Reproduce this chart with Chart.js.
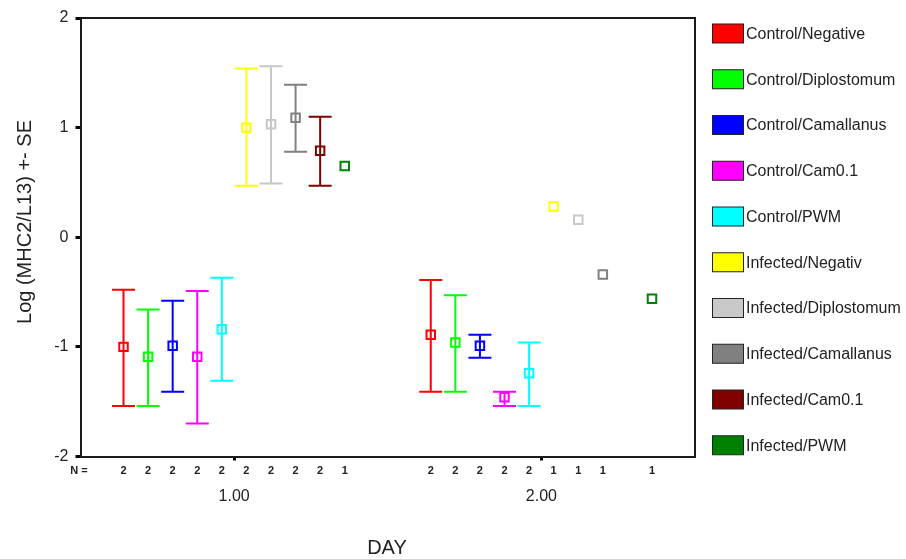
<!DOCTYPE html>
<html lang="en">
<head>
  <meta charset="UTF-8" />
  <title>MHC2/L13 by day</title>
  <script src="https://cdn.jsdelivr.net/npm/chart.js"></script>
  <style>
    html, body { margin: 0; padding: 0; background: #fff; }
    #wrap { width: 906px; height: 559px; }
  </style>
</head>
<body>
  <div id="wrap"><canvas id="chart" width="906" height="559"></canvas></div>

<script>
  // --- data ---
  const groups = [
    "Control/Negative", "Control/Diplostomum", "Control/Camallanus", "Control/Cam0.1", "Control/PWM",
    "Infected/Negativ", "Infected/Diplostomum", "Infected/Camallanus", "Infected/Cam0.1", "Infected/PWM"
  ];
  const colors = [
    "#ff0000", "#00ff00", "#0000ff", "#ff00ff", "#00ffff",
    "#ffff00", "#c8c8c8", "#808080", "#800000", "#008000"
  ];
  const days = [1, 2];
  const dayLabels = ["1.00", "2.00"];

  // mean, mean-SE, mean+SE per group (null = not plotted)
  const day1Mean = [-1.00, -1.09, -0.99, -1.09, -0.84, 1.00, 1.03, 1.09, 0.79, 0.65];
  const day1Low  = [-1.54, -1.54, -1.41, -1.70, -1.31, 0.47, 0.49, 0.78, 0.47, null];
  const day1High = [-0.48, -0.66, -0.58, -0.49, -0.37, 1.54, 1.56, 1.39, 1.10, null];
  const day2Mean = [-0.89, -0.96, -0.99, -1.46, -1.24, 0.28, 0.16, -0.34, null, -0.56];
  const day2Low  = [-1.41, -1.41, -1.10, -1.54, -1.54, null, null, null, null, null];
  const day2High = [-0.39, -0.53, -0.89, -1.41, -0.96, null, null, null, null, null];
  const day1N = [2, 2, 2, 2, 2, 2, 2, 2, 2, 1];
  const day2N = [2, 2, 2, 2, 2, 1, 1, 1, null, 1];

  const means = [day1Mean, day2Mean];
  const lows = [day1Low, day2Low];
  const highs = [day1High, day2High];
  const counts = [day1N, day2N];

  // groups sit side by side around each day
  const slot = 0.08;
  const xFor = (d, i) => days[d] + (i - (groups.length - 1) / 2) * slot;

  const TEXT = "#222";
  const FONT = "'Liberation Sans', Arial, sans-serif";

  const datasets = groups.map((name, i) => ({
    label: name,
    data: days.map((_, d) => ({ x: xFor(d, i), y: means[d][i] }))
      .filter(p => p.y !== null),
    borderColor: colors[i],
    backgroundColor: "transparent",
    pointStyle: "rect",
    pointRadius: 6,
    pointBorderWidth: 2,
    showLine: false
  }));

  // SE bars drawn under the squares
  const errorBars = {
    id: "errorBars",
    beforeDatasetsDraw(chart) {
      const { ctx, scales: { x, y } } = chart;
      ctx.save();
      ctx.lineWidth = 2;
      groups.forEach((_, i) => {
        days.forEach((_, d) => {
          const lo = lows[d][i], hi = highs[d][i];
          if (lo === null || hi === null) return;
          const px = x.getPixelForValue(xFor(d, i));
          const y0 = y.getPixelForValue(lo), y1 = y.getPixelForValue(hi);
          ctx.strokeStyle = colors[i];
          ctx.beginPath();
          ctx.moveTo(px, y0); ctx.lineTo(px, y1);
          ctx.moveTo(px - 11.5, y0); ctx.lineTo(px + 11.5, y0);
          ctx.moveTo(px - 11.5, y1); ctx.lineTo(px + 11.5, y1);
          ctx.stroke();
        });
      });
      ctx.restore();
    }
  };

  // frame, N row, axis titles and legend
  const extras = {
    id: "extras",
    afterDraw(chart) {
      const { ctx, chartArea: a, scales: { x } } = chart;
      ctx.save();
      ctx.strokeStyle = "#1a1a1a";
      ctx.lineWidth = 2;
      ctx.beginPath();
      ctx.moveTo(a.left, a.top); ctx.lineTo(a.right, a.top); ctx.lineTo(a.right, a.bottom);
      ctx.stroke();

      ctx.fillStyle = TEXT;
      ctx.textBaseline = "middle";
      ctx.textAlign = "center";
      ctx.font = "bold 11px " + FONT;
      ctx.fillText("N =", 79, 471);
      groups.forEach((_, i) => {
        days.forEach((_, d) => {
          const n = counts[d][i];
          if (n === null) return;
          ctx.fillText(String(n), x.getPixelForValue(xFor(d, i)), 471);
        });
      });

      ctx.font = "20px " + FONT;
      ctx.fillText("DAY", 387, 548);
      ctx.save();
      ctx.translate(25, 222);
      ctx.rotate(-Math.PI / 2);
      ctx.fillText("Log (MHC2/L13) +- SE", 0, 0);
      ctx.restore();

      ctx.font = "16px " + FONT;
      ctx.textAlign = "left";
      ctx.lineWidth = 1;
      ctx.strokeStyle = "#222";
      groups.forEach((name, i) => {
        const cy = 33.5 + i * 45.75;
        ctx.fillStyle = colors[i];
        ctx.fillRect(712.5, cy - 9.5, 31, 19);
        ctx.strokeRect(712.5, cy - 9.5, 31, 19);
        ctx.fillStyle = TEXT;
        ctx.fillText(name, 746, cy + 1);
      });
      ctx.restore();
    }
  };

  new Chart(document.getElementById("chart"), {
    type: "scatter",
    data: { datasets },
    options: {
      responsive: false,
      devicePixelRatio: 1,
      animation: false,
      layout: { padding: { left: 0, right: 211, top: 18, bottom: 0 } },
      plugins: { legend: { display: false }, tooltip: { enabled: false } },
      scales: {
        x: {
          type: "linear",
          min: 0.5,
          max: 2.5,
          afterFit: s => { s.height = 102.5; },
          afterBuildTicks: s => { s.ticks = days.map(v => ({ value: v })); },
          grid: { drawOnChartArea: false, drawTicks: true, tickLength: 4, tickWidth: 3, tickColor: "#000" },
          border: { display: true, color: "#1a1a1a", width: 2 },
          ticks: {
            padding: 26,
            color: TEXT,
            font: { family: FONT, size: 16 },
            maxRotation: 0,
            callback: v => dayLabels[days.indexOf(v)]
          }
        },
        y: {
          min: -2,
          max: 2,
          afterFit: s => { s.width = 80.5; },
          grid: { drawOnChartArea: false, drawTicks: true, tickLength: 5, tickWidth: 3, tickColor: "#000" },
          border: { display: true, color: "#1a1a1a", width: 2 },
          ticks: {
            stepSize: 1,
            padding: 7,
            color: TEXT,
            font: { family: FONT, size: 16 }
          }
        }
      }
    },
    plugins: [errorBars, extras]
  });
</script>
</body>
</html>
